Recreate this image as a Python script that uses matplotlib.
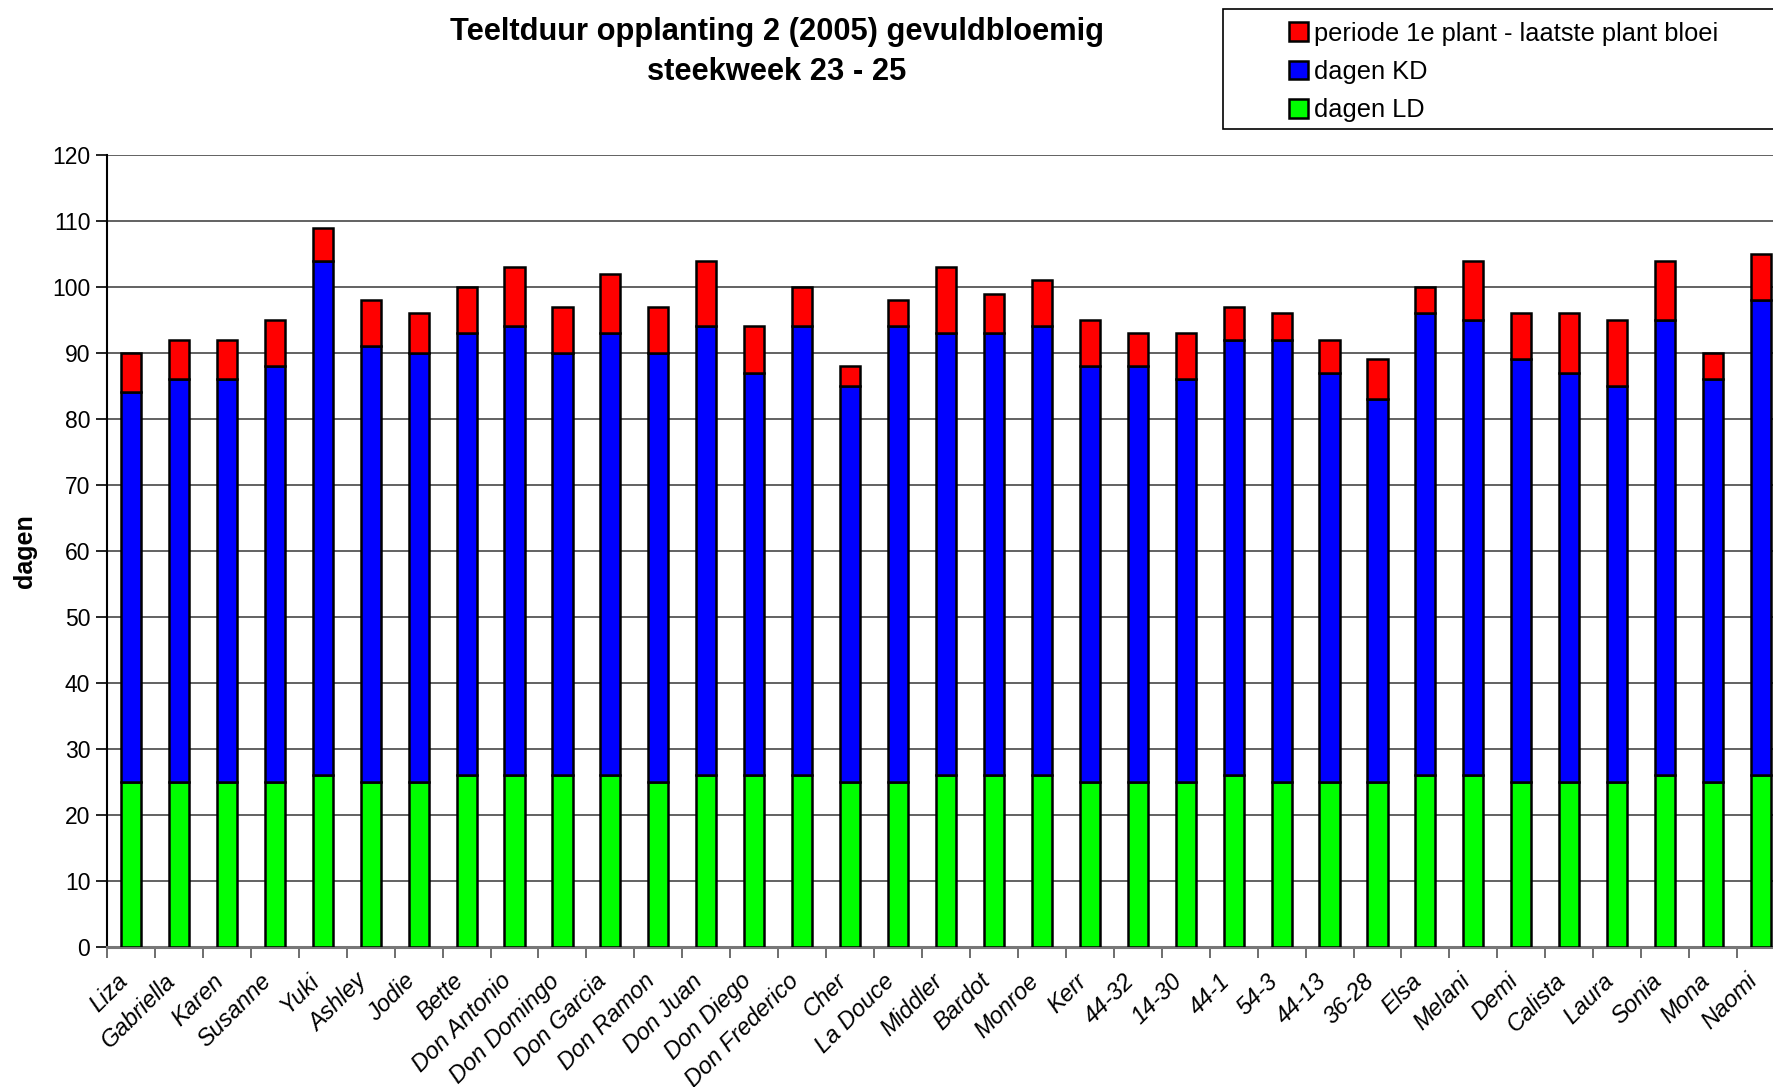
import numpy as np
import matplotlib
matplotlib.use('Agg')
import matplotlib.pyplot as plt
import matplotlib.transforms as mtrans
from matplotlib.patches import Rectangle

plt.rcParams['font.family'] = ['Liberation Sans', 'DejaVu Sans']

rassen = ['Liza', 'Gabriella', 'Karen', 'Susanne', 'Yuki', 'Ashley', 'Jodie', 'Bette',
          'Don Antonio', 'Don Domingo', 'Don Garcia', 'Don Ramon', 'Don Juan', 'Don Diego',
          'Don Frederico', 'Cher', 'La Douce', 'Middler', 'Bardot', 'Monroe', 'Kerr',
          '44-32', '14-30', '44-1', '54-3', '44-13', '36-28', 'Elsa', 'Melani', 'Demi',
          'Calista', 'Laura', 'Sonia', 'Mona', 'Naomi']
dagen_ld = [25, 25, 25, 25, 26, 25, 25, 26, 26, 26, 26, 25, 26, 26, 26, 25, 25, 26,
            26, 26, 25, 25, 25, 26, 25, 25, 25, 26, 26, 25, 25, 25, 26, 25, 26]
dagen_kd = [59, 61, 61, 63, 78, 66, 65, 67, 68, 64, 67, 65, 68, 61, 68, 60, 69, 67,
            67, 68, 63, 63, 61, 66, 67, 62, 58, 70, 69, 64, 62, 60, 69, 61, 72]
periode_bloei = [6, 6, 6, 7, 5, 7, 6, 7, 9, 7, 9, 7, 10, 7, 6, 3, 4, 10,
                 6, 7, 7, 5, 7, 5, 4, 5, 6, 4, 9, 7, 9, 10, 9, 4, 7]

W, H = 1773, 1087
fig = plt.figure(figsize=(W / 100, H / 100), dpi=100)
# plot area runs past the right edge of the picture, as in the original
ax = fig.add_axes([107 / W, 1 - 946.5 / H, 1678 / W, (946.5 - 155) / H])

x = np.arange(len(rassen))
ld = np.array(dagen_ld)
kd = np.array(dagen_kd)
pb = np.array(periode_bloei)
bw = 0.42
kw = dict(width=bw, edgecolor='black', linewidth=1.8, zorder=3)
ax.bar(x, ld, color='#00ff00', label='dagen LD', **kw)
ax.bar(x, kd, bottom=ld, color='#0000ff', label='dagen KD', **kw)
ax.bar(x, pb, bottom=ld + kd, color='#ff0000', label='periode 1e plant - laatste plant bloei', **kw)

ax.set_xlim(-0.5, len(rassen) - 0.5)
ax.set_ylim(0, 120)
ax.set_yticks(range(0, 121, 10))
ax.yaxis.grid(True, color='#555555', linewidth=1.3, zorder=0)
ax.set_axisbelow(True)

# category names: slanted, ending just left of the category centre
ax.set_xticks([])
lab_tf = ax.get_xaxis_transform() + mtrans.ScaledTranslation(-7 / 100, -31 / 100, fig.dpi_scale_trans)
for i, naam in enumerate(rassen):
    ax.text(x[i], 0, naam, transform=lab_tf, rotation=45, ha='right', va='center',
            rotation_mode='anchor', fontsize=17, style='italic', clip_on=False)
ax.set_xticks(np.arange(-0.5, len(rassen), 1), minor=True)
ax.tick_params(axis='x', which='minor', length=8, width=1.2, color='#555555')
ax.tick_params(axis='y', length=8, width=1.2, labelsize=16.5, pad=4)

for s in ['top', 'right']:
    ax.spines[s].set_visible(False)
ax.spines['left'].set_linewidth(1.5)
ax.spines['bottom'].set_linewidth(2.2)
ax.spines['bottom'].set_color('#777777')

fig.text(25 / W, 1 - 551 / H, 'dagen', rotation=90, ha='center', va='center',
         fontsize=18, fontweight='bold')

fig.text(777 / W, 1 - 32 / H, 'Teeltduur opplanting 2 (2005) gevuldbloemig',
         ha='center', va='center', fontsize=22.2, fontweight='bold')
fig.text(777 / W, 1 - 72 / H, 'steekweek 23 - 25',
         ha='center', va='center', fontsize=22.2, fontweight='bold')

# legend frame goes past the right edge
fig.patches.append(Rectangle((1223 / W, 1 - 129 / H), 0.5, 120 / H,
                             transform=fig.transFigure, facecolor='white',
                             edgecolor='black', linewidth=1.2))
handles, labels = ax.get_legend_handles_labels()
fig.legend(handles[::-1], labels[::-1], loc='upper left',
           bbox_to_anchor=(1289 / W, 1 - 21.5 / H), frameon=False, fontsize=18.3,
           handlelength=0.75, handleheight=0.75, handletextpad=0.25,
           labelspacing=0.57, borderpad=0, borderaxespad=0)

fig.savefig('out.png', dpi=100)
